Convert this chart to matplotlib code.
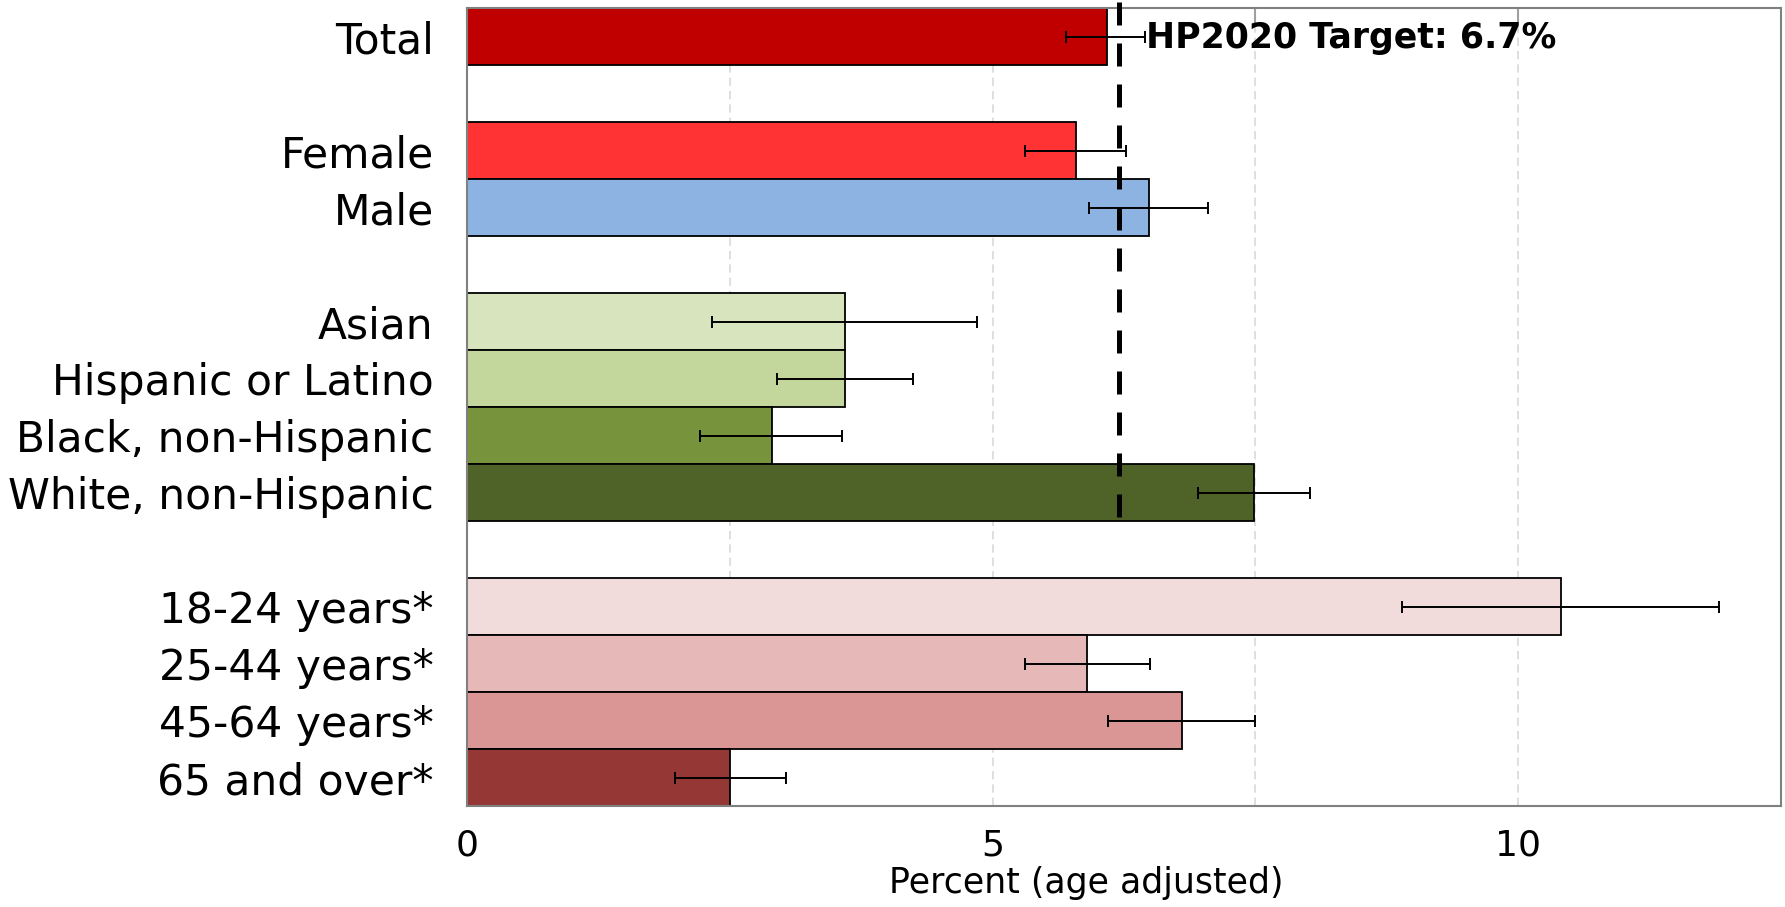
import matplotlib
matplotlib.use('Agg')
import matplotlib.pyplot as plt
import numpy as np

# data
labels = ['Total', '', 'Female', 'Male', '',
          'Asian', 'Hispanic or Latino', 'Black, non-Hispanic', 'White, non-Hispanic', '',
          '18-24 years*', '25-44 years*', '45-64 years*', '65 and over*']
values = [6.09, np.nan, 5.79, 6.49, np.nan,
          3.60, 3.60, 2.90, 7.49, np.nan,
          10.41, 5.90, 6.80, 2.50]
ci_low = [5.70, np.nan, 5.31, 5.92, np.nan,
          2.33, 2.95, 2.22, 6.95, np.nan,
          8.89, 5.31, 6.10, 1.98]
ci_high = [6.45, np.nan, 6.27, 7.05, np.nan,
           4.85, 4.24, 3.57, 8.02, np.nan,
           11.91, 6.50, 7.50, 3.03]
colors = ['#C00000', 'none', '#FF3333', '#8DB3E2', 'none',
          '#D7E4BD', '#C3D69B', '#77933C', '#4F6228', 'none',
          '#F2DCDB', '#E6B9B8', '#D99694', '#953735']
target_x = 6.2
target_text = 'HP2020 Target: 6.7%'

plt.rcParams['font.family'] = ['DejaVu Sans']
fig = plt.figure(figsize=(17.85, 9.07), dpi=100)
ax = fig.add_axes([467/1785, 1-806/907, (1781-467)/1785, (806-8)/907])

y = np.arange(len(labels))
v = np.array(values)
lo = np.array(ci_low)
hi = np.array(ci_high)
ok = ~np.isnan(v)

# grid drawn by hand so the ticks can stay on top of the bars
for gx in [2.5, 5, 7.5, 10]:
    ax.axvline(gx, color='#D9D9D9', linestyle=(0, (5, 3)), linewidth=1.2, zorder=0)

ax.barh(y[ok], v[ok], height=1.0, color=[c for c, k in zip(colors, ok) if k],
        edgecolor='black', linewidth=1.3, zorder=2)

# target line
ax.plot([target_x, target_x], [-0.6, 8.62], color='black', lw=3.6,
        linestyle=(0, (4.6, 3.6)), zorder=3, clip_on=False)

ax.errorbar(v[ok], y[ok], xerr=[v[ok]-lo[ok], hi[ok]-v[ok]], fmt='none',
            ecolor='black', elinewidth=1.4, capsize=4.5, capthick=1.4, zorder=4)

ax.text(6.46, 0.02, target_text, fontsize=25, fontweight='bold',
        va='center', ha='left', zorder=5)

ax.set_ylim(13.5, -0.5)
ax.set_xlim(0, 12.5)
ax.set_yticks(y)
ax.set_yticklabels(labels, fontsize=30.5)
ax.tick_params(axis='y', length=0, pad=24)

ax.set_xticks([0, 2.5, 5, 7.5, 10])
ax.set_xticklabels(['0', '', '5', '', '10'], fontsize=26)
ax.tick_params(axis='x', bottom=False, top=True, direction='in', length=11,
               color='#A0A0A0', width=1.5, pad=16, labelbottom=True)

ax.set_xlabel('Percent (age adjusted)', fontsize=25, labelpad=2)
ax.xaxis.set_label_coords(0.471, -0.075)

for s in ax.spines.values():
    s.set_color('#808080')
    s.set_linewidth(1.5)

plt.savefig('out.png', dpi=100)
